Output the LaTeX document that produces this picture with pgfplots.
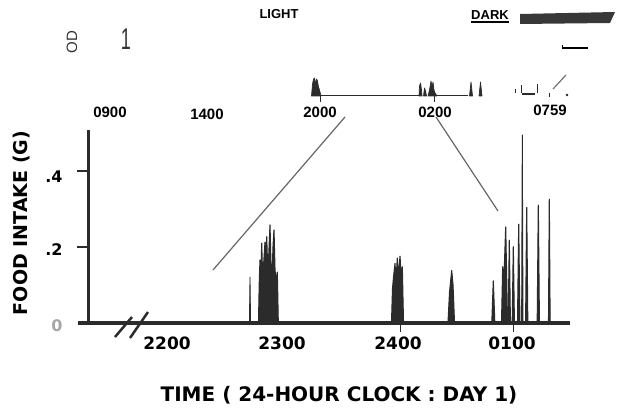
\documentclass[border=0pt]{standalone}
\usepackage{fontspec}
\setmainfont{DejaVu Sans}
\newfontfamily\ar{Liberation Sans}
\usepackage{pgfplots}
\pgfplotsset{compat=1.18}
\definecolor{ink}{HTML}{2B2B2B}
\begin{document}
\begin{tikzpicture}
\path[use as bounding box] (0,0) rectangle (620pt,407pt);
% ---------------- main axis ----------------
\begin{axis}[
  at={(88pt,84pt)}, anchor=south west,
  scale only axis, width=482pt, height=193pt,
  xmin=88, xmax=570, ymin=0, ymax=0.508,
  axis x line=bottom, axis y line=left,
  axis line style={-, ink},
  x axis line style={line width=3.5pt},
  y axis line style={line width=3pt},
  xtick=\empty, ytick=\empty,
  clip=false,
  spk/.style={fill=ink, draw=ink, line width=1.1pt, line join=round},
]
\draw[ink, line width=3.5pt] (axis cs:78,0) -- (axis cs:88,0);
\draw[ink, line width=2.8pt] (axis cs:77,0.2) -- (axis cs:88,0.2);
\draw[ink, line width=2.8pt] (axis cs:77,0.4) -- (axis cs:88,0.4);
\draw[ink, line width=1pt] (axis cs:400,0) -- (axis cs:400,-0.024);
\draw[ink, line width=1pt] (axis cs:513,0) -- (axis cs:513,-0.024);
% isolated spike
\addplot[spk, line width=0.8pt] coordinates {(249.4,0)(250,0.121)(250.6,0)} \closedcycle;
% 2300 cluster
\addplot[spk] coordinates {
(258.5,0)(259.2,0.10)(260,0.166)(260.8,0.11)(261.7,0.21)(262.6,0.12)(263.5,0.15)(265,0.213)
(265.8,0.14)(266.7,0.227)(267.8,0.13)(268.6,0.17)(270,0.258)(271,0.15)(272,0.12)(273,0.20)
(274,0.245)(275,0.14)(276,0.11)(277.3,0.134)(278.3,0)} \closedcycle;
% 2400 cluster
\addplot[spk] coordinates {
(391.5,0)(392.5,0.09)(393.5,0.12)(395,0.157)(396,0.11)(397.3,0.171)(398.5,0.12)(400,0.176)
(401,0.13)(402.3,0.148)(403.5,0)} \closedcycle;
\addplot[spk] coordinates {(448,0)(449.5,0.08)(451.7,0.138)(453,0.10)(454.5,0)} \closedcycle;
\addplot[spk] coordinates {(491.8,0)(493.3,0.111)(494.8,0)} \closedcycle;
\addplot[spk] coordinates {(501.5,0)(502.7,0.148)(504,0.12)(505.7,0.253)(506.8,0.10)(507.5,0)} \closedcycle;
\addplot[spk] coordinates {(508.2,0)(509.3,0.218)(510.4,0)} \closedcycle;
\addplot[spk] coordinates {(512.2,0)(513.3,0.201)(514.4,0)} \closedcycle;
\addplot[spk] coordinates {(517.5,0)(518.7,0.26)(519.9,0)} \closedcycle;
\addplot[spk, line width=0.9pt] coordinates {(521.6,0)(522.3,0.495)(523,0)} \closedcycle;
\addplot[spk] coordinates {(525.6,0)(526.7,0.304)(527.8,0)} \closedcycle;
\addplot[spk] coordinates {(537.2,0)(538.3,0.31)(539.4,0)} \closedcycle;
\addplot[spk] coordinates {(548.5,0)(549.3,0.326)(550.1,0)} \closedcycle;
\end{axis}
% ---------------- inset (24 h record) ----------------
\begin{axis}[
  at={(0pt,307pt)}, anchor=south west,
  scale only axis, width=620pt, height=30pt,
  xmin=0, xmax=620, ymin=-4, ymax=26,
  axis lines=none, clip=false,
  spk/.style={fill=ink, draw=ink, line width=0.7pt, line join=round},
]
\addplot[ink, line width=1pt] coordinates {(318,0)(420,0)};
\addplot[ink, line width=1pt] coordinates {(437,0)(468,0)};
\addplot[spk] coordinates {
(311.5,0)(312.5,12)(313.5,17)(314.5,18)(315.5,11)(316.5,17)(317.5,15)(318.5,9)(319.5,6)(321,0)} \closedcycle;
\addplot[ink, line width=0.8pt] coordinates {(320,0)(320,-6)};
\addplot[spk] coordinates {(419,0)(419.5,10)(420.5,13)(421.5,6)(422,0)} \closedcycle;
\addplot[spk] coordinates {(423.5,0)(424.5,8)(425.5,5)(426.5,0)} \closedcycle;
\addplot[spk] coordinates {(428,0)(429,4)(430,9)(431,15)(432,9)(433,14)(434,6)(435,3)(437,0)} \closedcycle;
\addplot[ink, line width=0.8pt] coordinates {(434,0)(434,-6)};
\addplot[spk] coordinates {(469.5,0)(471,14)(472.5,0)} \closedcycle;
\addplot[spk] coordinates {(479,0)(480.5,14)(482,0)} \closedcycle;
\addplot[ink, line width=0.8pt] coordinates {(515,3)(515,7)};
\addplot[ink, line width=0.8pt] coordinates {(521,3)(521,11)};
\addplot[ink, line width=2.2pt] coordinates {(522,2)(535,2)};
\addplot[ink, line width=0.8pt] coordinates {(537,3)(537,12)};
\addplot[ink, line width=0.8pt] coordinates {(549,-1)(549,3)};
\addplot[black!55, line width=1.2pt] coordinates {(553,7)(566,21)};
\addplot[ink, only marks, mark=*, mark size=1pt] coordinates {(567,1)};
\end{axis}
% ---------------- annotations in pixel coordinates ----------------
\begin{scope}[x=1pt, y=-1pt, yshift=407pt]
  % zoom lines
  \draw[black!60, line width=1.2pt] (213,270) -- (345,117);
  \draw[black!60, line width=1.2pt] (436,117) -- (498,211);
  % axis break
  \draw[ink, line width=2.5pt] (115,337) -- (132,317);
  \draw[ink, line width=2.5pt] (130,338) -- (148,312);
  % main labels
  \node[font=\fontsize{20}{24}\selectfont\bfseries, text=black] at (339,395) {TIME ( 24-HOUR CLOCK : DAY 1)};
  \node[font=\fontsize{19}{23}\selectfont\bfseries, text=black, rotate=90] at (22,223) {FOOD INTAKE (G)};
  \foreach \xx/\lab in {167/2200, 282/2300, 398/2400, 512/0100}
    \node[font=\fontsize{17}{20}\selectfont\bfseries, text=black] at (\xx,343) {\lab};
  \node[font=\fontsize{16}{19}\selectfont\bfseries, text=black] at (54,177) {.4};
  \node[font=\fontsize{16}{19}\selectfont\bfseries, text=black] at (54,250) {.2};
  \node[font=\fontsize{16}{19}\selectfont\bfseries, text=black!35] at (57,326) {0};
  % inset labels
  \foreach \xx/\yy/\lab in {110/112/0900, 207/114/1400, 320/112/2000, 435/112/0200, 550/110/0759}
    \node[font=\ar\fontsize{15}{18}\selectfont\bfseries, text=black] at (\xx,\yy) {\lab};
  \node[font=\ar\fontsize{13}{16}\selectfont\bfseries, text=black] at (279,14) {LIGHT};
  \node[font=\ar\fontsize{13}{16}\selectfont\bfseries, text=black] at (490,15) {DARK};
  \draw[black, line width=1.5pt] (471,22) -- (509,22);
  \fill[black!78] (520,14) -- (615,12) -- (610,23) -- (520,24) -- cycle;
  \draw[black, line width=2.5pt] (562,48) -- (588,48);
  \draw[black, line width=0.8pt] (562,45) -- (562,48);
  \node[font=\ar\fontsize{15}{18}\selectfont, text=black!80, rotate=90] at (72,42) {OD};
  \node[font=\ar\fontsize{30}{34}\selectfont, text=black!80] at (126,39) {\scalebox{0.6}[1]{1}};
\end{scope}
\end{tikzpicture}
\end{document}
